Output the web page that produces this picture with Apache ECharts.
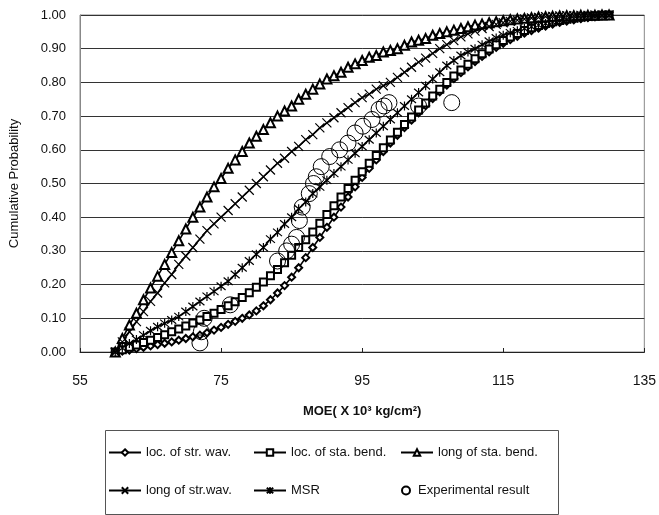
<!DOCTYPE html>
<html><head><meta charset="utf-8">
<script src="https://cdn.jsdelivr.net/npm/echarts@6/dist/echarts.min.js"></script>
<style>html,body{margin:0;padding:0;background:#fff}#c{width:659px;height:515px}</style>
</head><body><div id="c"></div>
<script>
// MOE values (x 10^3 kg/cm^2) at which the fitted curves are read
const moe = [60,61,62,63,64,65,66,67,68,69,
  70,71,72,73,74,75,76,77,78,79,
  80,81,82,83,84,85,86,87,88,89,
  90,91,92,93,94,95,96,97,98,99,
  100,101,102,103,104,105,106,107,108,109,
  110,111,112,113,114,115,116,117,118,119,
  120,121,122,123,124,125,126,127,128,129,
  130];

// loc. of str. wav.
const locStrWav = [0,0.003,0.006,0.01,0.014,0.018,0.022,0.026,0.03,0.035,
  0.04,0.045,0.05,0.057,0.065,0.073,0.082,0.091,0.10,0.11,
  0.122,0.137,0.155,0.175,0.197,0.222,0.25,0.28,0.31,0.34,
  0.37,0.40,0.43,0.46,0.49,0.518,0.545,0.57,0.595,0.62,
  0.643,0.666,0.688,0.71,0.731,0.752,0.772,0.792,0.811,0.829,
  0.846,0.862,0.877,0.891,0.904,0.916,0.927,0.937,0.946,0.954,
  0.961,0.967,0.973,0.978,0.982,0.986,0.989,0.992,0.995,0.997,
  0.999];

// loc. of sta. bend.
const locStaBend = [0,0.007,0.014,0.021,0.028,0.035,0.043,0.051,0.06,0.068,
  0.077,0.086,0.095,0.105,0.115,0.126,0.137,0.149,0.162,0.176,
  0.192,0.208,0.226,0.245,0.265,0.287,0.31,0.333,0.356,0.382,
  0.408,0.434,0.46,0.485,0.51,0.535,0.56,0.583,0.606,0.629,
  0.652,0.675,0.697,0.718,0.739,0.76,0.78,0.80,0.819,0.837,
  0.854,0.87,0.885,0.899,0.912,0.924,0.935,0.945,0.954,0.962,
  0.969,0.975,0.98,0.984,0.988,0.991,0.994,0.996,0.998,0.999,
  1.0];

// long of sta. bend.
const longStaBend = [0,0.04,0.08,0.115,0.155,0.19,0.225,0.26,0.295,0.33,
  0.365,0.40,0.43,0.46,0.49,0.515,0.545,0.57,0.595,0.62,
  0.64,0.66,0.68,0.70,0.715,0.73,0.75,0.765,0.78,0.795,
  0.81,0.82,0.83,0.845,0.855,0.865,0.875,0.88,0.89,0.895,
  0.90,0.91,0.92,0.925,0.93,0.94,0.945,0.95,0.955,0.96,
  0.965,0.97,0.973,0.977,0.98,0.983,0.986,0.988,0.99,0.992,
  0.994,0.995,0.996,0.997,0.998,0.998,0.999,0.999,0.999,1.0,
  1.0];

// long of str.wav.
const longStrWav = [0,0.03,0.06,0.09,0.12,0.15,0.175,0.205,0.23,0.26,
  0.285,0.31,0.335,0.36,0.38,0.40,0.42,0.44,0.46,0.48,
  0.50,0.52,0.54,0.56,0.575,0.595,0.61,0.63,0.645,0.665,
  0.68,0.695,0.71,0.725,0.74,0.755,0.765,0.78,0.79,0.80,
  0.815,0.83,0.845,0.86,0.872,0.886,0.90,0.912,0.924,0.935,
  0.944,0.952,0.96,0.966,0.972,0.977,0.981,0.985,0.988,0.991,
  0.993,0.995,0.996,0.997,0.998,0.998,0.999,0.999,1.0,1.0,
  1.0];

// MSR
const msr = [0,0.012,0.025,0.037,0.05,0.063,0.075,0.085,0.095,0.105,
  0.12,0.135,0.15,0.165,0.18,0.195,0.21,0.23,0.25,0.27,
  0.29,0.31,0.335,0.355,0.38,0.40,0.425,0.445,0.47,0.49,
  0.51,0.53,0.55,0.57,0.59,0.61,0.63,0.65,0.67,0.69,
  0.71,0.73,0.75,0.77,0.79,0.81,0.83,0.85,0.865,0.88,
  0.89,0.90,0.912,0.922,0.932,0.94,0.947,0.953,0.96,0.965,
  0.97,0.975,0.979,0.983,0.986,0.989,0.991,0.993,0.995,0.997,
  0.998];

// Experimental result
const expMoe  = [72.0,72.2,72.6,76.3,83.0,84.3,85.0,85.7,86.1,86.5,87.5,88.1,88.5,89.2,90.4,91.8,93.0,94.0,95.1,96.4,97.4,98.1,98.8,103.0,107.7];
const expProb = [0.027,0.06,0.10,0.14,0.27,0.30,0.32,0.34,0.39,0.43,0.47,0.50,0.52,0.55,0.58,0.60,0.62,0.65,0.67,0.69,0.72,0.73,0.74,0.73,0.74];

const xTicks = {min:55, max:135, interval:20};
const yTicks = {min:0, max:1, interval:0.1};

const names = ['loc. of str. wav.','loc. of sta. bend.','long of sta. bend.','long of str.wav.','MSR','Experimental result'];

const X_PATH = 'path://M0,0L10,10M10,0L0,10';
const AST_PATH = 'path://M0,0L10,10M10,0L0,10M5,-1L5,11';

function pairs(ys){ return moe.map((x,i)=>[x, ys[i]]); }
function lineSeries(name, ys, symbol, size){
  return {
    name, type:'line', data: pairs(ys), symbol, symbolSize:size,
    showSymbol:true, showAllSymbol:true, smooth:false,
    color:'#000',
    lineStyle:{color:'#000', width:1.6},
    itemStyle:{color:'#000', borderColor:'#000', borderWidth:1.2},
    emphasis:{disabled:true}, animation:false
  };
}

const chart = echarts.init(document.getElementById('c'), null, {renderer:'canvas'});
const font = '"Liberation Sans", Arial, sans-serif';
const legTxt = {fontSize:13, color:'#111', fontFamily:font};
function leg(name, left, top, w){
  return {data:[name], left, top, padding:0, itemWidth:w, itemHeight:8, itemGap:5,
          textStyle:legTxt, selectedMode:false};
}
chart.setOption({
  animation:false,
  backgroundColor:'#fff',
  textStyle:{fontFamily:font},
  grid:{left:79, right:12, top:15, bottom:163, show:true, borderColor:'#888', borderWidth:1},
  xAxis:{
    type:'value', min:xTicks.min, max:xTicks.max, interval:xTicks.interval,
    name:'MOE( X 10³ kg/cm²)', nameLocation:'middle', nameGap:53,
    nameTextStyle:{fontSize:13, fontWeight:'bold', color:'#111', fontFamily:font},
    axisLine:{show:true, lineStyle:{color:'#222', width:1}},
    axisTick:{show:true, inside:true, length:4, lineStyle:{color:'#222'}},
    axisLabel:{fontSize:14, color:'#111', margin:22, fontFamily:font},
    splitLine:{show:false}
  },
  yAxis:{
    type:'value', min:yTicks.min, max:yTicks.max, interval:yTicks.interval,
    name:'Cumulative Probability', nameLocation:'middle', nameGap:59, nameRotate:90,
    nameTextStyle:{fontSize:13, color:'#111', fontFamily:font},
    axisLine:{show:true, lineStyle:{color:'#888'}},
    axisTick:{show:false},
    axisLabel:{fontSize:13, color:'#111', margin:14, formatter:v=>v.toFixed(2), fontFamily:font},
    splitLine:{show:true, lineStyle:{color:'#333', width:1}}
  },
  legend:[
    leg(names[0], 108, 446, 32),
    leg(names[1], 253, 446, 32),
    leg(names[2], 400, 446, 32),
    leg(names[3], 108, 484, 32),
    leg(names[4], 253, 484, 32),
    leg(names[5], 401, 484, 14)
  ],
  graphic:[{type:'rect', left:103, top:428, shape:{width:453, height:84}, style:{fill:'none', stroke:'#555', lineWidth:1}}],
  series:[
    lineSeries(names[0], locStrWav, 'emptyDiamond', 7),
    lineSeries(names[1], locStaBend, 'emptyRect', 7),
    lineSeries(names[2], longStaBend, 'emptyTriangle', 9),
    lineSeries(names[3], longStrWav, X_PATH, 9),
    lineSeries(names[4], msr, AST_PATH, 9),
    {name:names[5], type:'scatter', data: expMoe.map((x,i)=>[x, expProb[i]]),
     symbol:'circle', symbolSize:16, color:'#000',
     itemStyle:{color:'rgba(255,255,255,0)', borderColor:'#000', borderWidth:1, opacity:1},
     emphasis:{disabled:true}, z:3}
  ]
});
</script>
</body></html>
